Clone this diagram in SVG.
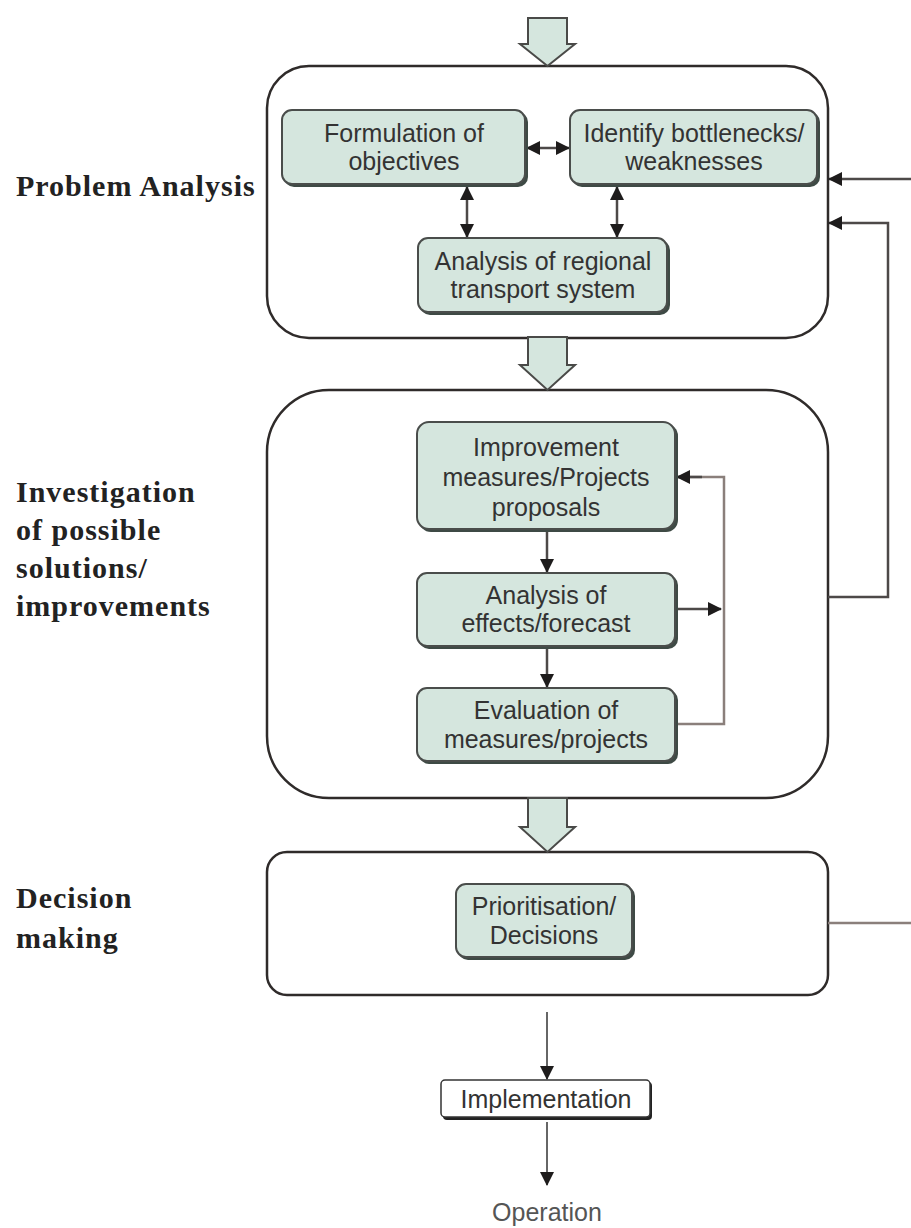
<svg xmlns="http://www.w3.org/2000/svg" width="911" height="1228" viewBox="0 0 911 1228">
<defs>
<style>
.outer{fill:#fff;stroke:#2f2b2a;stroke-width:2.5}
.inner{fill:#d5e6de;stroke:#4a4d4b;stroke-width:2}
.shadow{fill:#3e4a45}
.blk{fill:#d5e6de;stroke:#4a4a48;stroke-width:2;stroke-linejoin:miter}
.t{font-family:"Liberation Sans",Arial,sans-serif;font-size:25px;fill:#333;text-anchor:middle}
.lbl{font-family:"Liberation Serif","Times New Roman",serif;font-size:30px;font-weight:bold;fill:#222;letter-spacing:1px}
.c{fill:none;stroke:#4d4948;stroke-width:2.5}
.cl{fill:none;stroke:#8a7f7b;stroke-width:2.5}
</style>
<marker id="ah" viewBox="0 0 14 14" refX="13" refY="7" markerWidth="14" markerHeight="14" markerUnits="userSpaceOnUse" orient="auto-start-reverse">
<path d="M0,0 L14,7 L0,14 Z" fill="#1e1c1c"/>
</marker>
</defs>
<rect width="911" height="1228" fill="#fff"/>

<g id="label-problem"><text class="lbl" x="16" y="196">Problem Analysis</text></g>
<g id="label-investigation">
<text class="lbl" x="16" y="502">Investigation</text>
<text class="lbl" x="16" y="540">of possible</text>
<text class="lbl" x="16" y="578">solutions/</text>
<text class="lbl" x="16" y="616">improvements</text>
</g>
<g id="label-decision">
<text class="lbl" x="16" y="908">Decision</text>
<text class="lbl" x="16" y="948">making</text>
</g>

<g id="stage-problem"><rect class="outer" x="267" y="66" width="561" height="272" rx="42"/></g>
<g id="stage-investigation"><rect class="outer" x="267" y="390" width="561" height="408" rx="62"/></g>
<g id="stage-decision"><rect class="outer" x="267" y="852" width="561" height="143" rx="20"/></g>

<g id="block-arrows">
<polygon class="blk" points="528,18 567,18 567,44 575,44 547.5,66 520,44 528,44"/>
<polygon class="blk" points="528,337 567,337 567,365 575,365 547.5,390 520,365 528,365"/>
<polygon class="blk" points="528,798 567,798 567,827 575,827 547.5,852 520,827 528,827"/>
</g>

<g id="connectors">
<line class="c" x1="527" y1="148" x2="569" y2="148" marker-start="url(#ah)" marker-end="url(#ah)"/>
<line class="c" x1="467" y1="187" x2="467" y2="237" marker-start="url(#ah)" marker-end="url(#ah)"/>
<line class="c" x1="617" y1="187" x2="617" y2="237" marker-start="url(#ah)" marker-end="url(#ah)"/>
<line class="c" x1="911" y1="179" x2="829" y2="179" marker-end="url(#ah)"/>
<polyline class="c" points="828,597 888,597 888,223 829,223" marker-end="url(#ah)"/>
<line class="c" x1="547" y1="531" x2="547" y2="572" marker-end="url(#ah)"/>
<line class="c" x1="547" y1="648" x2="547" y2="687" marker-end="url(#ah)"/>
<line class="c" x1="677" y1="609" x2="721" y2="609" marker-end="url(#ah)"/>
<polyline class="cl" points="677,724 724,724 724,477 677,477"/>
<line class="c" x1="702" y1="477" x2="677" y2="477" marker-end="url(#ah)"/>
<line class="cl" x1="828" y1="923" x2="911" y2="923"/>
<line x1="547" y1="1012" x2="547" y2="1079" stroke="#333" stroke-width="1.5" marker-end="url(#ah)"/>
<line x1="547" y1="1122" x2="547" y2="1185" stroke="#333" stroke-width="1.5" marker-end="url(#ah)"/>
</g>

<g id="node-formulation">
<rect class="shadow" x="284" y="112" width="244" height="75" rx="10"/>
<rect class="inner" x="282" y="110" width="243" height="74" rx="10"/>
<text class="t" x="404" y="142">Formulation of</text>
<text class="t" x="404" y="170">objectives</text>
</g>
<g id="node-bottlenecks">
<rect class="shadow" x="572" y="112" width="248" height="75" rx="10"/>
<rect class="inner" x="570" y="110" width="247" height="74" rx="10"/>
<text class="t" x="694" y="142">Identify bottlenecks/</text>
<text class="t" x="694" y="170">weaknesses</text>
</g>
<g id="node-regional">
<rect class="shadow" x="420" y="240" width="250" height="75" rx="10"/>
<rect class="inner" x="418" y="238" width="249" height="74" rx="10"/>
<text class="t" x="543" y="270">Analysis of regional</text>
<text class="t" x="543" y="298">transport system</text>
</g>
<g id="node-improvement">
<rect class="shadow" x="419" y="424" width="259" height="108" rx="12"/>
<rect class="inner" x="417" y="422" width="258" height="107" rx="12"/>
<text class="t" x="546" y="456">Improvement</text>
<text class="t" x="546" y="486">measures/Projects</text>
<text class="t" x="546" y="516">proposals</text>
</g>
<g id="node-effects">
<rect class="shadow" x="419" y="575" width="259" height="74" rx="10"/>
<rect class="inner" x="417" y="573" width="258" height="73" rx="10"/>
<text class="t" x="546" y="604">Analysis of</text>
<text class="t" x="546" y="632">effects/forecast</text>
</g>
<g id="node-evaluation">
<rect class="shadow" x="419" y="690" width="259" height="74" rx="10"/>
<rect class="inner" x="417" y="688" width="258" height="73" rx="10"/>
<text class="t" x="546" y="719">Evaluation of</text>
<text class="t" x="546" y="748">measures/projects</text>
</g>
<g id="node-prioritisation">
<rect class="shadow" x="458" y="886" width="177" height="74" rx="10"/>
<rect class="inner" x="456" y="884" width="176" height="73" rx="10"/>
<text class="t" x="544" y="915">Prioritisation/</text>
<text class="t" x="544" y="944">Decisions</text>
</g>
<g id="node-implementation">
<rect x="443" y="1082" width="209" height="38" rx="4" fill="#222"/>
<rect x="441" y="1080" width="209" height="37" rx="4" fill="#fff" stroke="#333" stroke-width="1.5"/>
<text class="t" x="546" y="1108">Implementation</text>
</g>
<g id="node-operation">
<text class="t" x="547" y="1221" style="fill:#555">Operation</text>
</g>
</svg>
